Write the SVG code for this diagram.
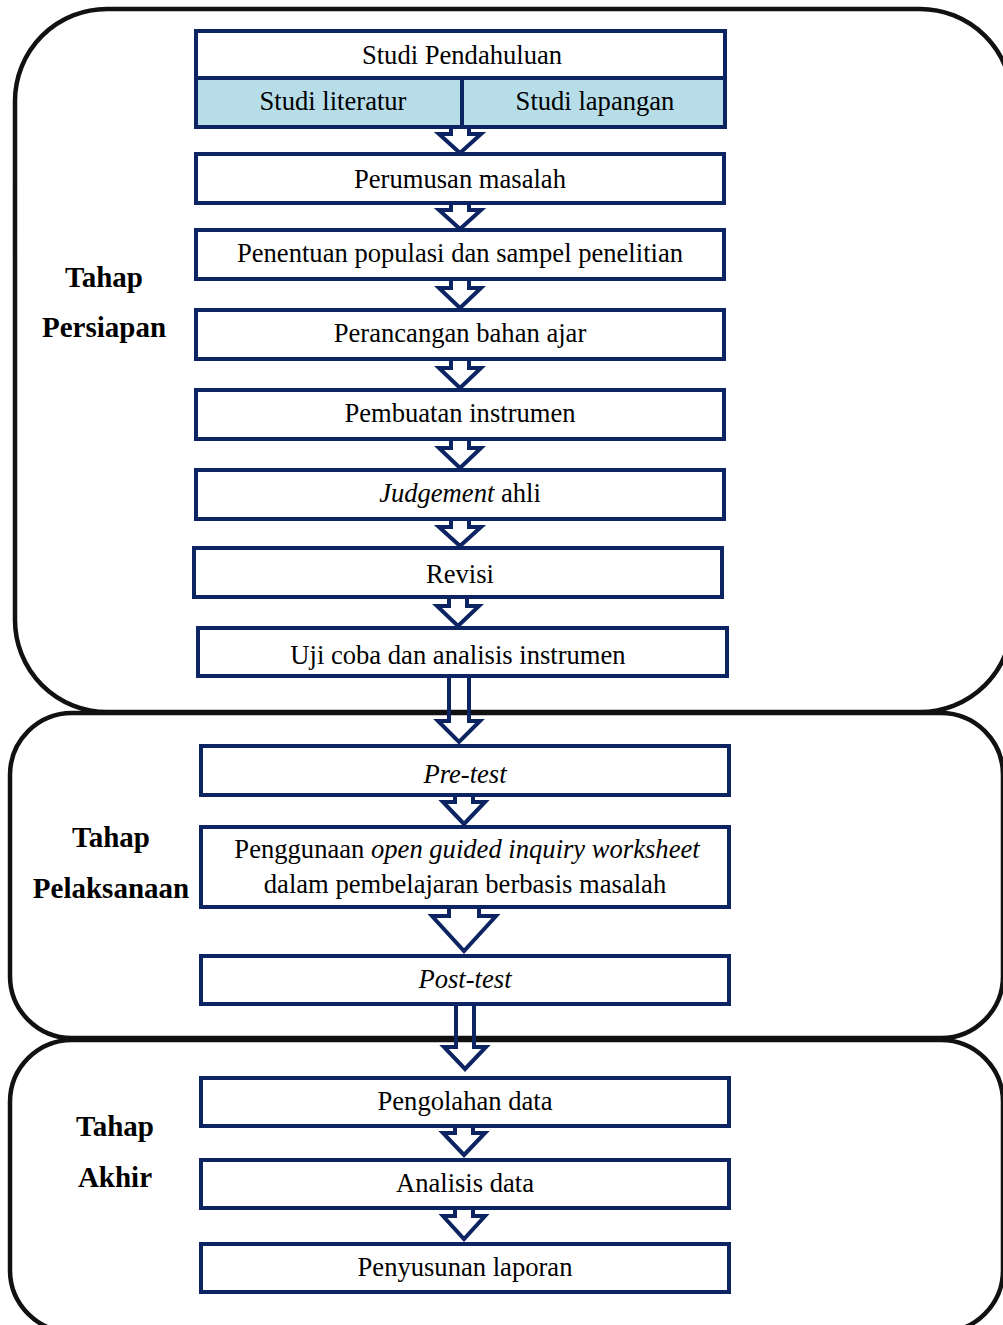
<svg xmlns="http://www.w3.org/2000/svg" width="1003" height="1325" viewBox="0 0 1003 1325">
<style>
.panel{fill:none;stroke:#111;stroke-width:4.5}
.box{fill:#fff;stroke:#0c2461;stroke-width:4}
.sub{fill:#b7dde8;stroke:#0c2461;stroke-width:4}
.arr{fill:none;stroke:#0c2461;stroke-width:4;stroke-linejoin:miter}
.t{font-size:26.6px;fill:#000;text-anchor:middle}
.lab{font-size:29px;font-weight:bold;fill:#000;text-anchor:middle}
</style>
<rect width="1003" height="1325" fill="#fff"/>
<g id="panels">
<rect class="panel" x="15" y="9" width="997" height="703" rx="92" ry="92"/>
<rect class="panel" x="10" y="713" width="993" height="325" rx="62" ry="62"/>
<rect class="panel" x="10" y="1040" width="993" height="292" rx="62" ry="62"/>
</g>
<g font-family="Liberation Serif, Times New Roman, serif">
<g id="labels">
<text class="lab" x="104" y="287">Tahap</text>
<text class="lab" x="104" y="337">Persiapan</text>
<text class="lab" x="111" y="847">Tahap</text>
<text class="lab" x="111" y="898">Pelaksanaan</text>
<text class="lab" x="115" y="1136">Tahap</text>
<text class="lab" x="115" y="1187">Akhir</text>
</g>
<g id="connectors">
<path class="arr" d="M451,126 V134 H439 L460,153 L481,134 H469 V126"/>
<path class="arr" d="M451,202 V210 H439 L460,229 L481,210 H469 V202"/>
<path class="arr" d="M451,278 V288 H439 L460,308 L481,288 H469 V278"/>
<path class="arr" d="M451,358 V368 H439 L460,388 L481,368 H469 V358"/>
<path class="arr" d="M451,438 V448 H439 L460,468 L481,448 H469 V438"/>
<path class="arr" d="M451,518 V527 H439 L460,546 L481,527 H469 V518"/>
<path class="arr" d="M449,596 V606 H437 L458,626 L479,606 H467 V596"/>
<path class="arr" d="M449,675 V721 H438 L459,742 L480,721 H469 V675"/>
<path class="arr" d="M455,794 V802 H443 L464,824 L485,802 H473 V794"/>
<path class="arr" d="M449,906 V916 H432 L464,951 L496,916 H479 V906"/>
<path class="arr" d="M456,1003 V1047 H444 L465,1069 L486,1047 H474 V1003"/>
<path class="arr" d="M455,1125 V1133 H443 L464,1155 L485,1133 H473 V1125"/>
<path class="arr" d="M455,1207 V1216 H443 L464,1239 L485,1216 H473 V1207"/>
</g>
<g id="n1">
<rect class="box" x="196" y="31" width="529" height="96"/>
<rect class="sub" x="196" y="78" width="266" height="49"/>
<rect class="sub" x="462" y="78" width="263" height="49"/>
<text class="t" x="462" y="64">Studi Pendahuluan</text>
<text class="t" x="333" y="110">Studi literatur</text>
<text class="t" x="595" y="110">Studi lapangan</text>
</g>
<g id="n2"><rect class="box" x="196" y="154" width="528" height="49"/><text class="t" x="460" y="188">Perumusan masalah</text></g>
<g id="n3"><rect class="box" x="196" y="230" width="528" height="49"/><text class="t" x="460" y="262">Penentuan populasi dan sampel penelitian</text></g>
<g id="n4"><rect class="box" x="196" y="310" width="528" height="49"/><text class="t" x="460" y="342">Perancangan bahan ajar</text></g>
<g id="n5"><rect class="box" x="196" y="390" width="528" height="49"/><text class="t" x="460" y="422">Pembuatan instrumen</text></g>
<g id="n6"><rect class="box" x="196" y="470" width="528" height="49"/><text class="t" x="460" y="502"><tspan font-style="italic">Judgement</tspan> ahli</text></g>
<g id="n7"><rect class="box" x="194" y="548" width="528" height="49"/><text class="t" x="460" y="583">Revisi</text></g>
<g id="n8"><rect class="box" x="198" y="628" width="529" height="48"/><text class="t" x="458" y="664">Uji coba dan analisis instrumen</text></g>
<g id="n9"><rect class="box" x="201" y="746" width="528" height="49"/><text class="t" x="465" y="783" font-style="italic">Pre-test</text></g>
<g id="n10"><rect class="box" x="201" y="827" width="528" height="80"/><text class="t" x="467" y="858">Penggunaan <tspan font-style="italic">open guided inquiry worksheet</tspan></text><text class="t" x="465" y="893">dalam pembelajaran berbasis masalah</text></g>
<g id="n11"><rect class="box" x="201" y="956" width="528" height="48"/><text class="t" x="465" y="988" font-style="italic">Post-test</text></g>
<g id="n12"><rect class="box" x="201" y="1078" width="528" height="48"/><text class="t" x="465" y="1110">Pengolahan data</text></g>
<g id="n13"><rect class="box" x="201" y="1160" width="528" height="48"/><text class="t" x="465" y="1192">Analisis data</text></g>
<g id="n14"><rect class="box" x="201" y="1244" width="528" height="48"/><text class="t" x="465" y="1276">Penyusunan laporan</text></g>
</g>
</svg>
